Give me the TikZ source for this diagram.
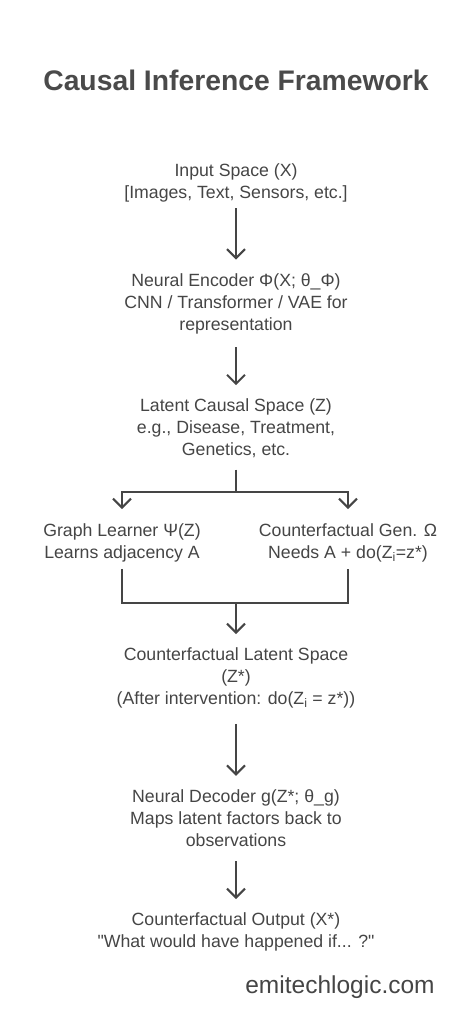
\documentclass[tikz,border=0pt]{standalone}
\usepackage{fontspec}
\setmainfont{Liberation Sans}[Ligatures=TeXOff]
\usetikzlibrary{arrows.meta,calc}
\definecolor{ink}{HTML}{454545}
\definecolor{titleink}{HTML}{4A4A4A}
\begin{document}
\begin{tikzpicture}[x=1pt,y=1pt,
  txt/.style={align=center, inner sep=0pt, text=ink, font=\fontsize{17.7}{22}\selectfont},
  arr/.style={draw=ink, line width=2pt, -{Straight Barb[length=9pt,width=18pt]}},
  ln/.style={draw=ink, line width=2pt}]
\useasboundingbox (0,0) rectangle (471,1024);
\node[font=\bfseries\fontsize{28.3}{34}\selectfont, text=titleink, inner sep=0pt] (title) at (236,944) {Causal Inference Framework};
\node[txt] (in) at (236,841.5) {Input Space (X)\\{[}Images, Text, Sensors, etc.{]}};
\node[txt] (enc) at (236,720.5) {Neural Encoder Φ(X; θ\_Φ)\\CNN / Transformer / VAE for\\representation};
\node[txt] (lat) at (236,595.5) {Latent Causal Space (Z)\\e.g., Disease, Treatment,\\Genetics, etc.};
\node[txt] (gl) at (122,481) {Graph Learner Ψ(Z)\\Learns adjacency A};
\node[txt] (cg) at (348,481) {Counterfactual Gen. Ω\\Needs A + do(Z\textsubscript{i}=z*)};
\node[txt] (cls) at (236,346) {Counterfactual Latent Space\\(Z*)\\(After intervention: do(Z\textsubscript{i} = z*))};
\node[txt] (dec) at (236,206) {Neural Decoder g(Z*; θ\_g)\\Maps latent factors back to\\observations};
\node[txt] (out) at (236,92) {Counterfactual Output (X*)\\"What would have happened if... ?"};
\node[inner sep=0pt, text=ink, font=\fontsize{24.5}{28}\selectfont] (wm) at (340,37) {emitechlogic.com};
\coordinate (j1) at (236,532);
\coordinate (j2) at (236,421);
\draw[arr, shorten <=6.4pt, shorten >=13.5pt] (in) -- (enc);
\draw[arr, shorten <=13.4pt, shorten >=13.5pt] (enc) -- (lat);
\draw[ln, shorten <=11.4pt] (lat) -- (j1);
\draw[arr, shorten >=14.5pt] (j1) -| (gl);
\draw[arr, shorten >=14.5pt] (j1) -| (cg);
\draw[ln, shorten <=6.4pt, shorten >=6.4pt] (gl) |- (j2) -| (cg);
\draw[arr, shorten >=13.5pt] (j2) -- (cls);
\draw[arr, shorten <=15.4pt, shorten >=13.5pt] (cls) -- (dec);
\draw[arr, shorten <=14.4pt, shorten >=13.5pt] (dec) -- (out);
\end{tikzpicture}
\end{document}
